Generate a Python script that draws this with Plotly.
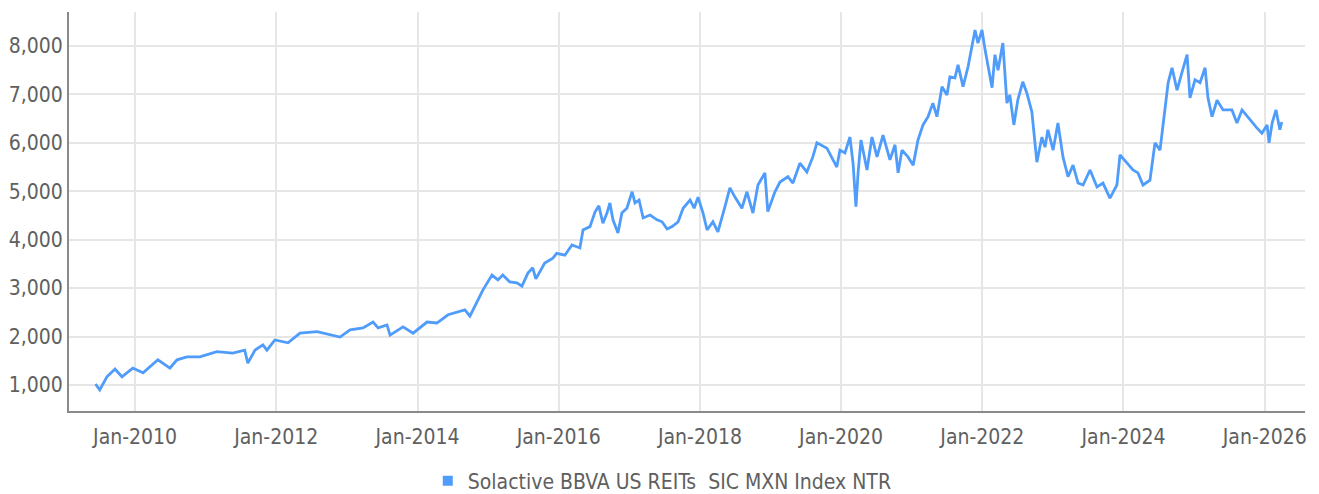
import plotly.graph_objects as go

SERIES_NAME = "Solactive BBVA US REITs\u00a0 SIC MXN Index NTR"

dates = [
    "2009-06-10", "2009-07-02", "2009-08-08", "2009-09-19", "2009-10-25", "2009-12-20",
    "2010-02-11", "2010-03-29", "2010-04-29", "2010-06-30", "2010-08-06", "2010-09-26",
    "2010-12-02", "2011-02-28", "2011-05-21", "2011-07-22", "2011-08-07", "2011-09-13",
    "2011-10-24", "2011-11-14", "2011-12-25", "2012-03-02", "2012-05-03", "2012-07-30",
    "2012-10-21", "2012-11-26", "2013-01-17", "2013-03-25", "2013-05-16", "2013-06-11",
    "2013-07-27", "2013-08-12", "2013-10-18", "2013-12-09", "2014-02-19", "2014-04-11",
    "2014-06-08", "2014-09-03", "2014-09-29", "2014-11-04", "2014-12-05", "2015-01-21",
    "2015-02-21", "2015-03-18", "2015-04-23", "2015-05-30", "2015-06-25", "2015-07-26",
    "2015-08-20", "2015-09-05", "2015-10-21", "2015-12-02", "2015-12-22", "2016-02-02",
    "2016-03-10", "2016-04-20", "2016-05-06", "2016-06-11", "2016-07-07", "2016-07-27",
    "2016-08-17", "2016-09-07", "2016-09-22", "2016-10-08", "2016-11-03", "2016-11-23",
    "2016-12-19", "2017-01-15", "2017-01-30", "2017-02-20", "2017-03-13", "2017-04-18",
    "2017-05-24", "2017-06-19", "2017-07-15", "2017-08-10", "2017-09-10", "2017-10-06",
    "2017-11-11", "2017-12-02", "2017-12-22", "2018-01-17", "2018-02-07", "2018-03-09",
    "2018-04-04", "2018-05-10", "2018-06-05", "2018-07-01", "2018-08-06", "2018-09-01",
    "2018-10-02", "2018-10-28", "2018-12-03", "2018-12-18", "2019-01-24", "2019-02-19",
    "2019-04-01", "2019-04-27", "2019-06-02", "2019-07-08", "2019-08-08", "2019-08-29",
    "2019-10-20", "2019-11-15", "2019-12-10", "2019-12-26", "2020-01-21", "2020-02-16",
    "2020-03-03", "2020-03-18", "2020-03-29", "2020-04-13", "2020-05-14", "2020-06-09",
    "2020-07-05", "2020-08-05", "2020-09-10", "2020-10-06", "2020-10-22", "2020-11-11",
    "2020-12-12", "2021-01-08", "2021-02-02", "2021-02-28", "2021-03-26", "2021-04-20",
    "2021-05-11", "2021-06-06", "2021-07-02", "2021-07-17", "2021-08-12", "2021-08-28",
    "2021-09-23", "2021-10-19", "2021-11-08", "2021-11-24", "2021-12-09", "2021-12-30",
    "2022-01-15", "2022-01-30", "2022-02-20", "2022-03-07", "2022-03-23", "2022-04-17",
    "2022-05-08", "2022-05-23", "2022-06-13", "2022-07-03", "2022-07-29", "2022-08-19",
    "2022-09-14", "2022-10-10", "2022-11-05", "2022-11-21", "2022-12-06", "2023-01-02",
    "2023-01-27", "2023-02-22", "2023-03-20", "2023-04-15", "2023-05-11", "2023-06-06",
    "2023-07-12", "2023-08-17", "2023-09-17", "2023-10-23", "2023-11-28", "2023-12-14",
    "2024-01-19", "2024-02-19", "2024-03-16", "2024-04-11", "2024-05-17", "2024-06-12",
    "2024-07-08", "2024-08-03", "2024-08-19", "2024-09-08", "2024-10-04", "2024-10-30",
    "2024-11-25", "2024-12-10", "2025-01-05", "2025-01-31", "2025-02-26", "2025-03-13",
    "2025-04-03", "2025-04-29", "2025-05-30", "2025-07-15", "2025-08-10", "2025-09-05",
    "2025-10-16", "2025-11-21", "2025-12-17", "2026-01-13", "2026-01-23", "2026-02-08",
    "2026-02-28", "2026-03-20", "2026-03-30",
]

values = [
    1020, 900, 1170, 1330, 1170, 1350,
    1250, 1410, 1520, 1350, 1520, 1580,
    1580, 1690, 1660, 1720, 1450, 1720,
    1830, 1720, 1930, 1870, 2070, 2100,
    2030, 1990, 2140, 2180, 2300, 2180,
    2240, 2030, 2200, 2070, 2300, 2280,
    2450, 2550, 2420, 2710, 2960, 3270,
    3170, 3270, 3130, 3110, 3040, 3310,
    3420, 3190, 3520, 3620, 3720, 3680,
    3890, 3830, 4200, 4270, 4570, 4700,
    4340, 4550, 4760, 4410, 4140, 4550,
    4650, 4990, 4760, 4820, 4450, 4510,
    4410, 4370, 4220, 4270, 4370, 4650,
    4820, 4650, 4880, 4550, 4200, 4370,
    4160, 4680, 5070, 4880, 4650, 4990,
    4550, 5130, 5380, 4580, 4990, 5190,
    5300, 5170, 5580, 5400, 5710, 6000,
    5890, 5690, 5500, 5850, 5790, 6120,
    5580, 4680, 5380, 6060, 5440, 6120,
    5710, 6160, 5650, 5960, 5380, 5850,
    5710, 5540, 6060, 6370, 6540, 6820,
    6540, 7160, 6990, 7360, 7340, 7610,
    7160, 7570, 7980, 8330, 8060, 8330,
    7920, 7570, 7140, 7820, 7500, 8060,
    6820, 6990, 6370, 6880, 7260, 7030,
    6640, 5600, 6120, 5910, 6270, 5850,
    6410, 5710, 5300, 5540, 5170, 5130,
    5440, 5090, 5170, 4860, 5130, 5750,
    5580, 5440, 5380, 5130, 5230, 6000,
    5850, 6780, 7240, 7550, 7090, 7460,
    7820, 6930, 7300, 7240, 7550, 6930,
    6540, 6880, 6680, 6680, 6410, 6680,
    6470, 6310, 6200, 6370, 6000, 6410,
    6680, 6270, 6430,
]

y_ticks = [1000, 2000, 3000, 4000, 5000, 6000, 7000, 8000]
x_ticks = ["2010-01-01", "2012-01-01", "2014-01-01", "2016-01-01",
           "2018-01-01", "2020-01-01", "2022-01-01", "2024-01-01", "2026-01-01"]
x_tick_labels = ["Jan-2010", "Jan-2012", "Jan-2014", "Jan-2016",
                 "Jan-2018", "Jan-2020", "Jan-2022", "Jan-2024", "Jan-2026"]

LINE_COLOR = "#4f9cfb"
TEXT_COLOR = "#606060"
GRID_COLOR = "#e6e6e6"
AXIS_COLOR = "#8a8a8a"
FONT = "DejaVu Sans Condensed, Roboto, sans-serif"

fig = go.Figure()
fig.add_trace(go.Scatter(
    x=dates, y=values, mode="lines", name=SERIES_NAME,
    line=dict(color=LINE_COLOR, width=2.8), showlegend=False,
))
fig.add_trace(go.Scatter(
    x=[None], y=[None], mode="markers", name=SERIES_NAME,
    marker=dict(symbol="square", size=10, color=LINE_COLOR),
    showlegend=True,
))

fig.update_layout(
    width=1319, height=494,
    margin=dict(l=69, r=14, t=12, b=83, autoexpand=False),
    paper_bgcolor="white", plot_bgcolor="white",
    font=dict(family=FONT, size=21, color=TEXT_COLOR),
    showlegend=True,
    legend=dict(orientation="h", x=0.480, xanchor="center", y=-0.124, yanchor="top",
                font=dict(size=21, color=TEXT_COLOR), itemwidth=30,
                bgcolor="rgba(0,0,0,0)"),
    xaxis=dict(
        type="date", range=["2009-01-24", "2026-07-28"],
        tickvals=x_ticks, ticktext=x_tick_labels,
        showgrid=True, gridcolor=GRID_COLOR, gridwidth=2,
        showline=True, linecolor=AXIS_COLOR, linewidth=2,
        ticks="", zeroline=False, ticklabelstandoff=6,
    ),
    yaxis=dict(
        range=[463, 8702], tickvals=y_ticks, tickformat=",",
        showgrid=True, gridcolor=GRID_COLOR, gridwidth=2,
        showline=True, linecolor=AXIS_COLOR, linewidth=2,
        ticks="", zeroline=False, ticklabelstandoff=0,
    ),
)

fig.write_html(
    "out.html",
    config={"displayModeBar": False},
    post_script="document.body.style.margin='0';document.body.style.overflow='hidden';",
)
